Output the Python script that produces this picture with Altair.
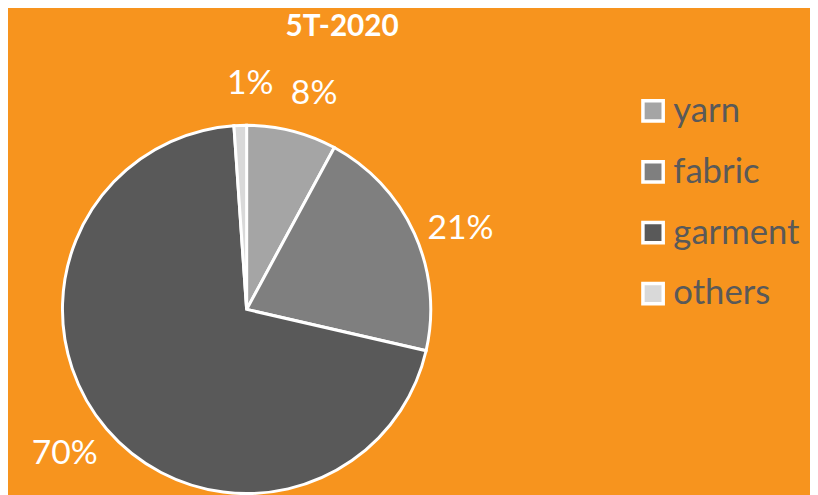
import altair as alt
import pandas as pd

categories = ["yarn", "fabric", "garment", "others"]
shares = [7.9, 20.7, 70.3, 1.1]
colors = ["#A5A5A5", "#7F7F7F", "#595959", "#D9D9D9"]
title_text = ["5T-2020"]

df = pd.DataFrame({"category": categories, "share": shares, "idx": list(range(len(categories)))})
tdf = pd.DataFrame({"title": title_text})

CX, CY, R = 241, 302, 186

color = alt.Color(
    "category:N",
    scale=alt.Scale(domain=categories, range=colors),
    sort=categories,
    legend=alt.Legend(
        title=None,
        orient="none",
        legendX=634,
        legendY=84,
        labelFontSize=35,
        labelColor="#595959",
        labelFont="Lato",
        symbolType="square",
        symbolSize=420,
        symbolStrokeColor="white",
        symbolStrokeWidth=3.5,
        symbolOpacity=1,
        rowPadding=25.5,
        labelOffset=3,
        padding=0,
    ),
)

base = alt.Chart(df).transform_joinaggregate(total="sum(share)").transform_calculate(
    pct="datum.share / datum.total"
)

arcs = base.mark_arc(radius=R, stroke="white", strokeWidth=3).encode(
    theta=alt.Theta("share:Q", stack=True),
    order=alt.Order("idx:Q"),
    color=color,
    x=alt.value(CX),
    y=alt.value(CY),
)

labels = base.mark_text(
    radius=232, thetaOffset=0.05, dy=4, font="Lato", fontSize=34, color="white"
).encode(
    theta=alt.Theta("share:Q", stack=True),
    order=alt.Order("idx:Q"),
    text=alt.Text("pct:Q", format=".0%"),
    x=alt.value(CX),
    y=alt.value(CY),
)

title = alt.Chart(tdf).mark_text(
    font="Lato", fontSize=30, fontWeight="bold", color="white", baseline="middle"
).encode(text="title:N", x=alt.value(337.5), y=alt.value(16.5))

chart = (
    alt.layer(arcs, labels, title)
    .properties(width=810, height=487, autosize=alt.AutoSizeParams(type="none"), padding=0)
    .configure(background="#F7941E")
    .configure_view(stroke=None)
)

chart.save("out.html", embed_options={"renderer": "svg", "actions": False})
